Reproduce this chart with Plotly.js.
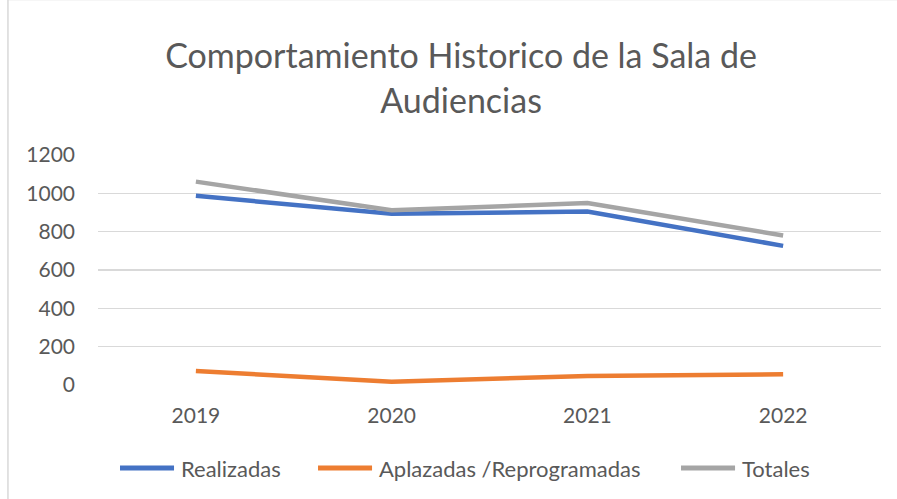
<!DOCTYPE html>
<html>
<head>
<meta charset="utf-8">
<script src="https://cdn.plot.ly/plotly-3.0.1.min.js"></script>
<style>html,body{margin:0;padding:0;background:#fff;}#chart{width:897px;height:499px;}</style>
</head>
<body>
<div id="chart"></div>
<script>
var years = ["2019", "2020", "2021", "2022"];
var realizadas = [987, 893, 905, 726];
var aplazadas = [73, 17, 47, 56];
var totales = [1061, 912, 949, 780];
var yTicks = [0, 200, 400, 600, 800, 1000, 1200];
var seriesNames = ["Realizadas", "Aplazadas /Reprogramadas", "Totales"];
var seriesColors = ["#4472C4", "#ED7D31", "#A5A5A5"];

var font = "Lato, 'Open Sans', sans-serif";
var txt = "#595959";

var seriesValues = [realizadas, aplazadas, totales];
var traces = seriesValues.map(function (vals, i) {
  return {x: years, y: vals, name: seriesNames[i], type: "scatter", mode: "lines",
          line: {color: seriesColors[i], width: 4.5}, showlegend: false};
});

// custom legend (longer line samples like the reference)
var legendStarts = [0.0281, 0.281, 0.7446];
var legendY = -0.361;
var shapes = [
  {type: "line", xref: "x domain", yref: "y domain", x0: -0.115, x1: 1.05, y0: 1.676, y1: 1.676,
   line: {color: "#D9D9D9", width: 1.5}},
  {type: "line", xref: "x domain", yref: "y domain", x0: -0.115, x1: -0.115, y0: 1.676, y1: -0.6,
   line: {color: "#D9D9D9", width: 1.5}}
];
var annotations = [];
seriesNames.forEach(function (n, i) {
  var x0 = legendStarts[i];
  shapes.push({type: "line", xref: "paper", yref: "paper", x0: x0, x1: x0 + 0.069, y0: legendY, y1: legendY,
               line: {color: seriesColors[i], width: 5}});
  annotations.push({text: n, xref: "paper", yref: "paper", x: x0 + 0.0755, y: legendY,
                    xanchor: "left", yanchor: "middle", showarrow: false,
                    font: {family: font, size: 22, color: txt}});
});

var layout = {
  width: 897, height: 499,
  margin: {l: 98, r: 16, t: 155, b: 114},
  paper_bgcolor: "#fff", plot_bgcolor: "#fff",
  font: {family: font, color: txt, size: 21},
  title: {text: "Comportamiento Historico de la Sala de<br>Audiencias", font: {family: font, size: 34, color: txt},
          x: 0.514, xanchor: "center", y: 0.863, yanchor: "middle", yref: "container"},
  xaxis: {type: "category", range: [-0.5, 3.5], showgrid: false, zeroline: false, showline: false,
          ticks: "", ticklabelstandoff: 16, tickfont: {size: 21, color: txt}, fixedrange: true},
  yaxis: {range: [0, 1200], tickvals: yTicks, ticktext: yTicks.map(String), showgrid: true,
          gridcolor: "#D9D9D9", gridwidth: 1.3, zeroline: false, showline: false, ticks: "",
          ticklabelstandoff: 22, tickfont: {size: 21, color: txt}, fixedrange: true},
  showlegend: false,
  shapes: shapes,
  annotations: annotations
};

Plotly.newPlot("chart", traces, layout, {displayModeBar: false, staticPlot: true});
</script>
</body>
</html>
